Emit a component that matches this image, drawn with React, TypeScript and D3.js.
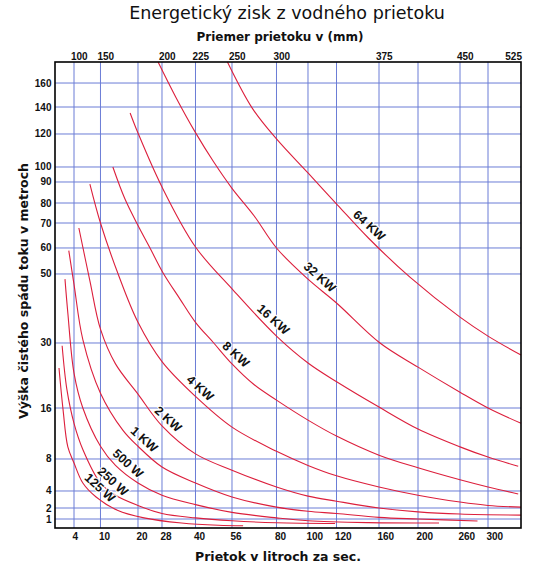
import React from 'react';
import * as d3 from 'd3';

// flow (l/s) gridlines along the bottom
const flowTicks = [4, 10, 20, 28, 40, 56, 80, 100, 120, 160, 200, 260, 300];
// pipe diameters (mm) printed along the top, and the flow each one sits over
const diameterTicks = [100, 150, 200, 225, 250, 300, 375, 450, 525];
const diameterAtFlow = [4, 10, 28, 40, 56, 80, 160, 260, 347];
// net head (m) gridlines on the left
const headTicks = [1, 2, 4, 8, 16, 30, 50, 60, 70, 80, 90, 100, 120, 140, 160];

const FLOW_MAX = 347;
const HEAD_MAX = 178;

// the sheet's axes are hand spaced, so each gridline gets its own stop (share of plot size)
const xStretch = [0, 0.0408, 0.0976, 0.1781, 0.2296, 0.3015, 0.3798, 0.4753, 0.5429, 0.6041, 0.6953, 0.779, 0.8691, 0.9292, 1];
const yStretch = [0, 0.0193, 0.0429, 0.0794, 0.1481, 0.2575, 0.397, 0.5451, 0.6009, 0.6545, 0.6974, 0.7425, 0.7747, 0.8455, 0.9034, 0.9549, 1];

// [flow l/s, head m] for each power curve
const w125 = [[0.84, 24.6], [1.7, 15.7], [2.7, 9.9], [4, 7.5], [6, 5], [9, 3.3], [14.5, 1.8], [22, 1.1], [35, 0.55], [50, 0.3], [62, 0.25]];
const w250 = [[1.5, 29.4], [2.5, 20], [4, 13.6], [6, 9.5], [10, 5], [14, 3.5], [20, 2.3], [28, 1.5], [40, 1.1], [56, 0.8], [80, 0.58], [119, 0.5]];
const w500 = [[2.1, 48.5], [2.7, 38.7], [4, 23.5], [6, 16], [10, 10], [14, 7.2], [20, 5], [28, 3.5], [40, 2.4], [56, 1.6], [80, 1.1], [100, 0.8], [150, 0.6], [230, 0.55]];
const kw1 = [[2.9, 59], [4, 47], [6, 31], [10, 19.2], [16, 12.5], [20, 10], [28, 7], [40, 5], [56, 3.3], [80, 2.1], [100, 1.7], [120, 1.5], [160, 1.15], [200, 1.0], [285, 0.78]];
const kw2 = [[5.1, 68], [7.6, 48], [10, 34], [14, 25.5], [20, 19], [28, 13.2], [40, 8.8], [56, 6.6], [80, 4.5], [100, 3.4], [120, 2.8], [160, 2.0], [200, 1.65], [260, 1.45], [347, 1.35]];
const kw4 = [[7.6, 89], [10, 70], [14.7, 50], [20, 36], [28, 26], [40, 18.5], [56, 13], [80, 9.2], [100, 7.2], [120, 5.9], [160, 4.5], [200, 3.5], [260, 2.7], [300, 2.3], [347, 2.1]];
const kw8 = [[13.3, 100], [16.5, 82], [20, 69], [24, 60], [28.4, 50.4], [34.4, 42.8], [40, 36], [48, 30], [56, 25.5], [68, 21], [80, 17.7], [100, 14.1], [120, 11.6], [160, 8.6], [200, 6.9], [260, 5.4], [300, 4.5], [343, 3.65]];
const kw16 = [[17.9, 135.6], [20, 120.7], [28, 87.6], [40, 60.4], [56.5, 45.4], [80, 32], [100, 25.7], [120.5, 21.6], [160, 16.2], [200, 12.7], [260, 9.9], [300, 8.3], [343, 7.1]];
const kw32 = [[26.7, 178], [33, 148], [40, 121], [48, 103], [56, 87], [68, 73.5], [80, 60], [100, 48.5], [120, 41.6], [161, 30], [200, 24.8], [260, 19.4], [300, 16], [347, 13.6]];
const kw64 = [[54, 178], [67, 139], [80, 117], [100, 96], [121, 79], [150, 64], [192, 49], [260, 37.5], [300, 32], [347, 27.4]];

const powerCurves = [w125, w250, w500, kw1, kw2, kw4, kw8, kw16, kw32, kw64];
const powerLabels = ['125 W', '250 W', '500 W', '1 KW', '2 KW', '4 KW', '8 KW', '16 KW', '32 KW', '64 KW'];
// flow at which each curve carries its label
const labelFlows = [8.5, 11.7, 15.7, 20, 28, 39.5, 55, 75, 104, 145];

const WIDTH = 542;
const HEIGHT = 571;
const M = { left: 55, top: 62 };
const PW = 466;
const PH = 466;

const GRID = '#6b7dd6';
const RED = '#dc1f3c';
const TICK_FONT = '"Liberation Sans", Arial, sans-serif';
const HEAD_FONT = '"DejaVu Sans", Verdana, sans-serif';

export default function App() {
  const x = d3
    .scaleLinear()
    .domain([0, ...flowTicks, FLOW_MAX])
    .range(xStretch.map((f) => M.left + f * PW));
  const y = d3
    .scaleLinear()
    .domain([0, ...headTicks, HEAD_MAX])
    .range(yStretch.map((f) => M.top + PH - f * PH));

  const line = d3
    .line<number[]>()
    .x((d) => x(d[0]))
    .y((d) => y(d[1]))
    .curve(d3.curveCatmullRom.alpha(0.5));

  // point on a curve at a given flow, interpolated in screen space
  const pointAt = (pts: number[][], q: number) => {
    for (let i = 1; i < pts.length; i++) {
      if (q <= pts[i][0]) {
        const x0 = x(pts[i - 1][0]);
        const x1 = x(pts[i][0]);
        const y0 = y(pts[i - 1][1]);
        const y1 = y(pts[i][1]);
        const px = x(q);
        const t = (px - x0) / (x1 - x0);
        return [px, y0 + t * (y1 - y0)];
      }
    }
    const last = pts[pts.length - 1];
    return [x(last[0]), y(last[1])];
  };

  return (
    <svg
      width={WIDTH}
      height={HEIGHT}
      style={{ position: 'absolute', left: 0, top: 0, background: '#fff' }}
    >
      <text x={287} y={19} textAnchor="middle" fontFamily={HEAD_FONT} fontSize={17.5} fill="#111">
        Energetický zisk z vodného prietoku
      </text>
      <text x={280} y={41} textAnchor="middle" fontFamily={HEAD_FONT} fontWeight="bold" fontSize={12} fill="#111">
        Priemer prietoku v (mm)
      </text>

      <g stroke={GRID} strokeWidth={1}>
        {flowTicks.map((q) => (
          <line key={'v' + q} x1={x(q)} x2={x(q)} y1={M.top} y2={M.top + PH} />
        ))}
        {headTicks.map((h) => (
          <line key={'h' + h} x1={M.left} x2={M.left + PW} y1={y(h)} y2={y(h)} />
        ))}
      </g>

      <g fill="none" stroke={RED} strokeWidth={1.1}>
        {powerCurves.map((c, i) => (
          <path key={i} d={line(c) || ''} />
        ))}
      </g>

      <g fontFamily={TICK_FONT} fontWeight="bold" fontSize={12.5} fill="#111">
        {powerCurves.map((c, i) => {
          const [px, py] = pointAt(c, labelFlows[i]);
          return (
            <text
              key={i}
              transform={`translate(${px},${py}) rotate(42)`}
              dy={-5}
              textAnchor="middle"
              stroke="#fff"
              strokeWidth={2}
              paintOrder="stroke"
            >
              {powerLabels[i]}
            </text>
          );
        })}
      </g>

      <rect x={M.left} y={M.top} width={PW} height={PH} fill="none" stroke="#000" strokeWidth={1.6} />

      <g fontFamily={TICK_FONT} fontWeight="bold" fontSize={10} fill="#111">
        {headTicks.map((h) => (
          <text key={h} x={51.5} y={y(h)} textAnchor="end" dominantBaseline="central">
            {h}
          </text>
        ))}
        {flowTicks.map((q) => (
          <text key={q} x={x(q) - 1.5} y={539.5}>
            {q}
          </text>
        ))}
        {diameterTicks.map((dmm, i) => {
          const last = i === diameterTicks.length - 1;
          return (
            <text
              key={dmm}
              x={last ? x(diameterAtFlow[i]) + 1 : x(diameterAtFlow[i]) - 3}
              y={59.5}
              textAnchor={last ? 'end' : 'start'}
            >
              {dmm}
            </text>
          );
        })}
      </g>

      <text x={278} y={561} textAnchor="middle" fontFamily={HEAD_FONT} fontWeight="bold" fontSize={12.5} fill="#111">
        Prietok v litroch za sec.
      </text>
      <text
        transform="translate(28,291) rotate(-90)"
        textAnchor="middle"
        fontFamily={HEAD_FONT}
        fontWeight="bold"
        fontSize={12.5}
        fill="#111"
      >
        Výška čistého spádu toku v metroch
      </text>
    </svg>
  );
}
